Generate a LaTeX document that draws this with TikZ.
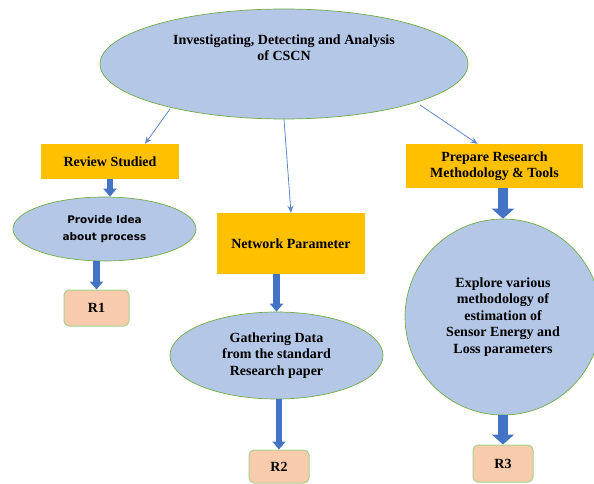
\documentclass[tikz,border=0pt]{standalone}
\usepackage{fontspec}
\setmainfont{Liberation Serif}
\newfontfamily\verdanalike{DejaVu Sans}
\usetikzlibrary{shapes.geometric,arrows.meta}
\definecolor{bubble}{HTML}{B4C7E7}
\definecolor{rimgreen}{HTML}{70AD47}
\definecolor{amber}{HTML}{FFC000}
\definecolor{peach}{HTML}{F8CBAD}
\definecolor{paleedge}{HTML}{A9D18E}
\definecolor{arrowblue}{HTML}{4472C4}
\tikzset{
  bubblenode/.style={ellipse, fill=bubble, draw=rimgreen, line width=0.7pt,
    inner sep=0pt, align=center, font=\bfseries\fontsize{14}{16.5}\selectfont},
  amberbox/.style={rectangle, fill=amber, inner sep=0pt, align=center,
    font=\bfseries\fontsize{14}{16}\selectfont},
  resultbox/.style={rectangle, rounded corners=5pt, fill=peach, draw=paleedge,
    line width=1pt, minimum width=62pt, inner sep=0pt,
    font=\bfseries\fontsize{14}{16}\selectfont},
  thinlink/.style={draw=arrowblue!85, line width=0.8pt,
    -{Stealth[length=7pt,width=6pt]}},
  blocklink/.style={draw=arrowblue, line width=6.5pt,
    -{Triangle[length=8pt,width=13pt]}},
  bigblocklink/.style={draw=arrowblue, line width=10pt,
    -{Triangle[length=10pt,width=22pt]}},
}
\begin{document}
\begin{tikzpicture}[x=1pt,y=-1pt]
\useasboundingbox (0,0) rectangle (594,484);
\clip (0,0) rectangle (594,484);

% main topic
\node[bubblenode, minimum width=368pt, minimum height=110pt,
  label={[font=\bfseries\fontsize{14}{16}\selectfont, align=center, yshift=16pt]center:Investigating, Detecting and Analysis\\of CSCN}]
  (top) at (284,64) {};

% three branches
\node[amberbox, minimum width=138pt, minimum height=35pt] (review) at (110,161.5) {Review Studied};
\node[amberbox, minimum width=148pt, minimum height=61pt] (netpar) at (291,243.5) {Network Parameter};
\node[amberbox, minimum width=177pt, minimum height=44pt] (prep) at (494.5,166) {Prepare Research\\Methodology \& Tools};

% second level
\node[bubblenode, minimum width=183pt, minimum height=64pt,
  font=\verdanalike\bfseries\fontsize{10.5}{17}\selectfont] (idea) at (104.5,229) {Provide Idea\\about process};
\node[bubblenode, minimum width=213pt, minimum height=87pt] (gather) at (276.5,355.5) {Gathering Data\\from the standard\\Research paper};
\node[bubblenode, circle, minimum size=196pt] (explore) at (503,317)
  {\raisebox{4pt}{\begin{tabular}{@{}c@{}}Explore various\\methodology of\\estimation of\\Sensor Energy and\\Loss parameters\end{tabular}}};

% results
\node[resultbox, minimum width=65pt, minimum height=36pt] (r1) at (96.5,308) {R1};
\node[resultbox, minimum width=60pt, minimum height=33pt] (r2) at (279,466.5) {R2};
\node[resultbox, minimum width=60pt, minimum height=37pt] (r3) at (503,463.5) {R3};

% thin links from the main topic
\draw[thinlink] ([shift={(-114,45)}]top.center) -- ([xshift=35pt]review.north);
\draw[thinlink] (top.south) -- (netpar.north);
\draw[thinlink] ([shift={(136,41)}]top.center) -- ([xshift=-17pt]prep.north);

% block arrows down each branch
\draw[blocklink] (review.south) -- (review.south |- idea.north);
\draw[blocklink] (r1.north |- idea.south) -- (r1.north);
\draw[blocklink] (gather.north |- netpar.south) -- (gather.north);
\draw[blocklink] (r2.north |- gather.south) -- (r2.north);
\draw[bigblocklink] (explore.north |- prep.south) -- (explore.north);
\draw[bigblocklink] (r3.north |- explore.south) -- (r3.north);
\end{tikzpicture}
\end{document}
